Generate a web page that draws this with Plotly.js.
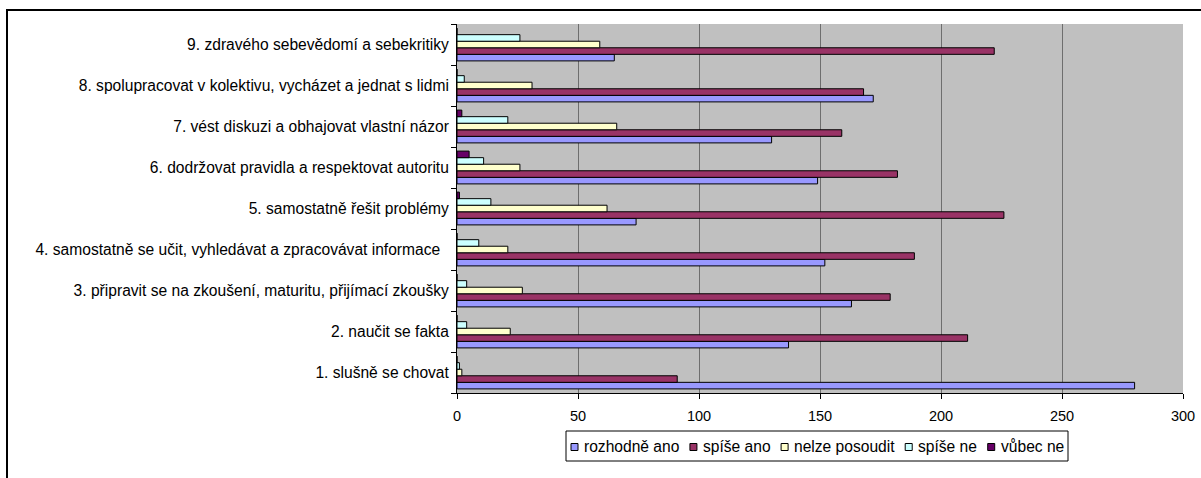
<!DOCTYPE html>
<html>
<head>
<meta charset="utf-8">
<script src="https://cdn.plot.ly/plotly-3.0.1.min.js"></script>
<style>
  html, body { margin: 0; padding: 0; background: #ffffff; }
  #wrap { position: relative; width: 1201px; height: 478px; overflow: hidden; }
  #chart { position: absolute; left: 0; top: 0; width: 1201px; height: 478px; }
  #frame { position: absolute; left: 6px; top: 9px; width: 1400px; height: 700px;
           border-left: 2px solid #000; border-top: 2px solid #000; pointer-events: none; }
</style>
</head>
<body>
<div id="wrap">
  <div id="chart"></div>
  <div id="frame"></div>
</div>
<script>
const categories = [
  "1. slušně se chovat",
  "2. naučit se fakta",
  "3. připravit se na zkoušení, maturitu, přijímací zkoušky",
  "4. samostatně se učit, vyhledávat a zpracovávat informace\u00a0\u00a0",
  "5. samostatně řešit problémy",
  "6. dodržovat pravidla a respektovat autoritu",
  "7. vést diskuzi a obhajovat vlastní názor",
  "8. spolupracovat v kolektivu, vycházet a jednat s lidmi",
  "9. zdravého sebevědomí a sebekritiky"
];

const seriesNames = ["rozhodně ano", "spíše ano", "nelze posoudit", "spíše ne", "vůbec ne"];

const rozhodneAno   = [280, 137, 163, 152, 74, 149, 130, 172, 65];
const spiseAno      = [91, 211, 179, 189, 226, 182, 159, 168, 222];
const nelzePosoudit = [2, 22, 27, 21, 62, 26, 66, 31, 59];
const spiseNe       = [1, 4, 4, 9, 14, 11, 21, 3, 26];
const vubecNe       = [0, 0, 0, 0, 1, 5, 2, 0, 0];

const xTicks = [0, 50, 100, 150, 200, 250, 300];

const colors = ["#9999FF", "#993366", "#FFFFCC", "#CCFFFF", "#660066"];
const values = [rozhodneAno, spiseAno, nelzePosoudit, spiseNe, vubecNe];

const font = "'Liberation Sans', Arial, sans-serif";

const traces = values.map((vals, i) => ({
  type: "bar",
  orientation: "h",
  name: seriesNames[i],
  x: vals,
  y: categories,
  showlegend: false,
  marker: { color: colors[i], line: { color: "#000000", width: 1 } },
  hoverinfo: "x+name"
}));

// ---- plot geometry (pixels) ----
const W = 1201, H = 478;
const M = { l: 457, r: 18, t: 24, b: 85 };
const PW = W - M.l - M.r, PH = H - M.t - M.b;
const px2x = p => (p - M.l) / PW;
const py2y = p => (H - M.b - p) / PH;

// ---- custom Excel-style legend ----
const legFontSize = 15.6;
const ctx = document.createElement("canvas").getContext("2d");
ctx.font = legFontSize + "px 'Liberation Sans', Arial, sans-serif";
const textW = seriesNames.map(s => ctx.measureText(s).width);
const legLeft = 566, legRight = 1068, legTop = 431, legBottom = 461;
const pad = 5, sq = 7, sqGap = 5;
const sumText = textW.reduce((a, b) => a + b, 0);
const itemGap = (legRight - legLeft - 2 * pad - seriesNames.length * (sq + sqGap) - sumText) / (seriesNames.length - 1);
const legMid = (legTop + legBottom) / 2;

const shapes = [{
  type: "rect", xref: "paper", yref: "paper",
  x0: px2x(legLeft), x1: px2x(legRight), y0: py2y(legBottom), y1: py2y(legTop),
  fillcolor: "#FFFFFF", line: { color: "#000000", width: 1 }, layer: "above"
}];
const annotations = [];
let cx = legLeft + pad;
seriesNames.forEach((name, i) => {
  shapes.push({
    type: "rect", xref: "paper", yref: "paper",
    x0: px2x(cx), x1: px2x(cx + sq), y0: py2y(legMid + sq / 2 + 1), y1: py2y(legMid - sq / 2 + 1),
    fillcolor: colors[i], line: { color: "#000000", width: 1 }, layer: "above"
  });
  cx += sq + sqGap;
  annotations.push({
    xref: "paper", yref: "paper", x: px2x(cx), y: py2y(legMid),
    xanchor: "left", yanchor: "middle", text: name, showarrow: false,
    xshift: -1, font: { family: font, size: legFontSize, color: "#000000" }
  });
  cx += textW[i] + itemGap;
});

const layout = {
  width: W,
  height: H,
  margin: { l: M.l, r: M.r, t: M.t, b: M.b, pad: 0 },
  paper_bgcolor: "rgba(0,0,0,0)",
  plot_bgcolor: "#C0C0C0",
  barmode: "group",
  bargap: 0.2,
  bargroupgap: 0,
  showlegend: false,
  font: { family: font, size: 14.5, color: "#000000" },
  xaxis: {
    range: [0, 300],
    tickvals: xTicks,
    ticktext: xTicks.map(String),
    showgrid: true,
    gridcolor: "#6e6e6e",
    gridwidth: 1,
    zeroline: false,
    showline: true,
    linecolor: "#000000",
    linewidth: 1,
    ticks: "outside",
    ticklen: 5,
    tickcolor: "#000000",
    ticklabelstandoff: 5,
    tickfont: { family: font, size: 14.5, color: "#000000" },
    fixedrange: true
  },
  yaxis: {
    type: "category",
    categoryorder: "array",
    categoryarray: categories,
    showgrid: false,
    zeroline: false,
    showline: true,
    linecolor: "#000000",
    linewidth: 1,
    ticks: "outside",
    tickson: "boundaries",
    ticklen: 5,
    tickcolor: "#000000",
    ticklabelstandoff: 4,
    automargin: false,
    tickfont: { family: font, size: 15.6, color: "#000000" },
    fixedrange: true
  },
  shapes: shapes,
  annotations: annotations
};

Plotly.newPlot("chart", traces, layout, { displayModeBar: false, staticPlot: true });
</script>
</body>
</html>
